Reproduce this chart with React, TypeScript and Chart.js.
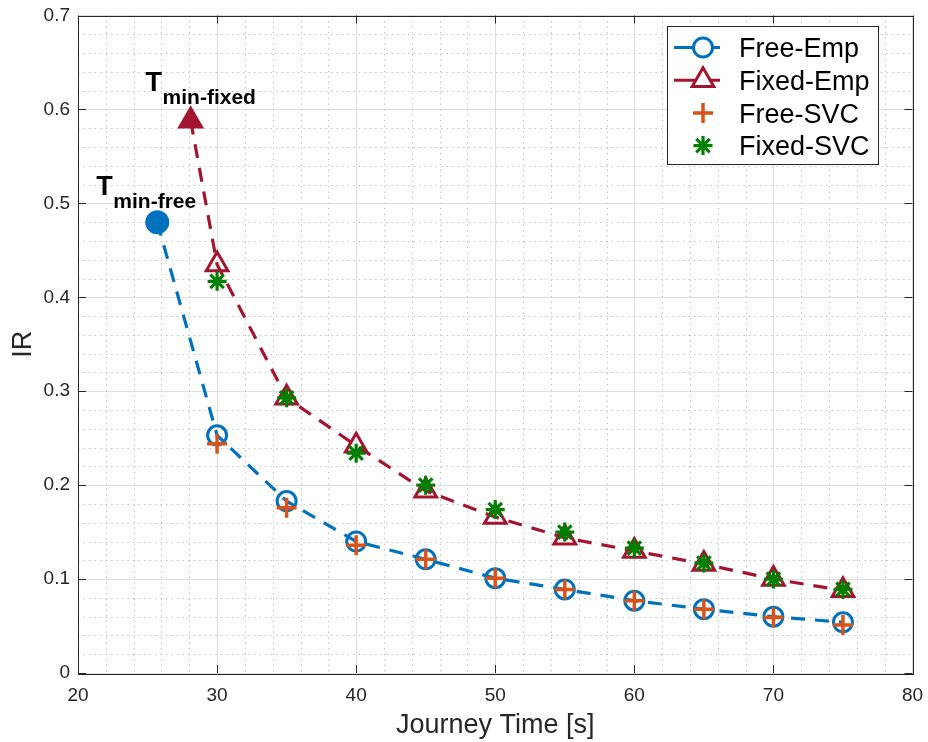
import React, { useEffect, useRef } from "react";
import { Chart, registerables } from "chart.js";

Chart.register(...registerables);

// ---------- data ----------
const journeyTimes = [30, 35, 40, 45, 50, 55, 60, 65, 70, 75];
const tMinFree = 25.7;
const irMinFree = 0.48;
const tMinFixed = 28.1;
const irMinFixed = 0.588;
const freeEmp = [0.253, 0.183, 0.14, 0.121, 0.101, 0.089, 0.077, 0.068, 0.06, 0.054];
const fixedEmp = [0.435, 0.293, 0.242, 0.194, 0.166, 0.144, 0.13, 0.116, 0.1, 0.088];
const freeSVC = [0.244, 0.176, 0.136, 0.121, 0.101, 0.089, 0.077, 0.068, 0.059, 0.051];
const fixedSVC = [0.417, 0.293, 0.234, 0.2, 0.174, 0.15, 0.133, 0.117, 0.1, 0.089];
const seriesNames = ["Free-Emp", "Fixed-Emp", "Free-SVC", "Fixed-SVC"];
const xTickValues = [20, 30, 40, 50, 60, 70, 80];
const yTickValues = [0, 0.1, 0.2, 0.3, 0.4, 0.5, 0.6, 0.7];
const xTitle = "Journey Time [s]";
const yTitle = "IR";
const annotFree = { main: "T", sub: "min-free", x: 21.32, y: 0.509 };
const annotFixed = { main: "T", sub: "min-fixed", x: 24.86, y: 0.6196 };

// ---------- styles ----------
const FONT = '"Liberation Sans", Arial, Helvetica, sans-serif';
const BLUE = "#0072BD";
const RED = "#A2142F";
const ORANGE = "#D95319";
const GREEN = "#008000";
const AXIS = "#262626";
const TRI_R = 12.5;
const CIRC_R = 9.5;

function drawMarker(ctx: CanvasRenderingContext2D, kind: string, x: number, y: number, color: string) {
  ctx.save();
  ctx.strokeStyle = color;
  ctx.fillStyle = "#fff";
  ctx.setLineDash([]);
  if (kind === "circle") {
    ctx.lineWidth = 3;
    ctx.beginPath();
    ctx.arc(x, y, CIRC_R, 0, Math.PI * 2);
    ctx.fill();
    ctx.stroke();
  } else if (kind === "triangle") {
    ctx.lineWidth = 3;
    ctx.beginPath();
    for (let i = 0; i < 3; i++) {
      const a = (i * 2 * Math.PI) / 3;
      const px = x + Math.sin(a) * TRI_R;
      const py = y - Math.cos(a) * TRI_R;
      if (i === 0) ctx.moveTo(px, py);
      else ctx.lineTo(px, py);
    }
    ctx.closePath();
    ctx.fill();
    ctx.stroke();
  } else if (kind === "cross") {
    ctx.lineWidth = 3.5;
    ctx.beginPath();
    ctx.moveTo(x - 10, y);
    ctx.lineTo(x + 10, y);
    ctx.moveTo(x, y - 10);
    ctx.lineTo(x, y + 10);
    ctx.stroke();
  } else if (kind === "star") {
    ctx.lineWidth = 3.2;
    ctx.beginPath();
    for (let i = 0; i < 4; i++) {
      const a = (i * Math.PI) / 4;
      ctx.moveTo(x - Math.cos(a) * 9.5, y - Math.sin(a) * 9.5);
      ctx.lineTo(x + Math.cos(a) * 9.5, y + Math.sin(a) * 9.5);
    }
    ctx.stroke();
  }
  ctx.restore();
}

const framePlugin = {
  id: "matlabFrame",
  beforeDatasetsDraw(chart: any) {
    const { ctx, chartArea: a, scales } = chart;
    const xs = scales.x;
    const ys = scales.y;
    ctx.save();
    ctx.strokeStyle = "#c2c2c2";
    ctx.lineWidth = 1;
    ctx.setLineDash([1.5, 4]);
    for (let i = 1; i < 30; i++) {
      if (i % 5 === 0) continue;
      const p = Math.round(xs.getPixelForValue(20 + 2 * i)) + 0.5;
      ctx.beginPath();
      ctx.moveTo(p, a.top);
      ctx.lineTo(p, a.bottom);
      ctx.stroke();
    }
    for (let j = 1; j < 35; j++) {
      if (j % 5 === 0) continue;
      const p = Math.round(ys.getPixelForValue(0.02 * j)) + 0.5;
      ctx.beginPath();
      ctx.moveTo(a.left, p);
      ctx.lineTo(a.right, p);
      ctx.stroke();
    }
    ctx.restore();
  },
  afterDraw(chart: any) {
    const { ctx, chartArea: a, scales } = chart;
    const xs = scales.x;
    const ys = scales.y;
    ctx.save();
    // box
    ctx.strokeStyle = AXIS;
    ctx.lineWidth = 1;
    ctx.setLineDash([]);
    ctx.strokeRect(Math.round(a.left) + 0.5, Math.round(a.top) + 0.5, Math.round(a.right - a.left), Math.round(a.bottom - a.top));
    // inward ticks
    const TL = 8;
    ctx.beginPath();
    for (const v of xTickValues) {
      const p = Math.round(xs.getPixelForValue(v)) + 0.5;
      ctx.moveTo(p, a.bottom);
      ctx.lineTo(p, a.bottom - TL);
      ctx.moveTo(p, a.top);
      ctx.lineTo(p, a.top + TL);
    }
    for (const v of yTickValues) {
      const p = Math.round(ys.getPixelForValue(v)) + 0.5;
      ctx.moveTo(a.left, p);
      ctx.lineTo(a.left + TL, p);
      ctx.moveTo(a.right, p);
      ctx.lineTo(a.right - TL, p);
    }
    ctx.stroke();

    // annotations
    ctx.fillStyle = "#000";
    ctx.textBaseline = "alphabetic";
    ctx.textAlign = "left";
    for (const an of [annotFree, annotFixed]) {
      const px = xs.getPixelForValue(an.x);
      const py = ys.getPixelForValue(an.y);
      ctx.font = `bold 27px ${FONT}`;
      ctx.fillText(an.main, px, py);
      const w = ctx.measureText(an.main).width;
      ctx.font = `bold 21px ${FONT}`;
      ctx.fillText(an.sub, px + w + 0.5, py + 13);
    }

    // legend
    const lx0 = 667, lx1 = 878, ly0 = 26, ly1 = 164;
    ctx.fillStyle = "#fff";
    ctx.fillRect(lx0, ly0, lx1 - lx0, ly1 - ly0);
    ctx.strokeStyle = AXIS;
    ctx.lineWidth = 1;
    ctx.strokeRect(lx0 + 0.5, ly0 + 0.5, lx1 - lx0, ly1 - ly0);
    const kinds = ["circle", "triangle", "cross", "star"];
    const colors = [BLUE, RED, ORANGE, GREEN];
    const lines = [true, true, false, false];
    for (let i = 0; i < 4; i++) {
      const cy = 47.5 + i * 32.7;
      if (lines[i]) {
        ctx.strokeStyle = colors[i];
        ctx.lineWidth = 3;
        ctx.beginPath();
        ctx.moveTo(674, cy);
        ctx.lineTo(720, cy);
        ctx.stroke();
      }
      drawMarker(ctx, kinds[i], 703, cy, colors[i]);
      ctx.fillStyle = "#000";
      ctx.font = `27px ${FONT}`;
      ctx.fillText(seriesNames[i], 739, cy + 9.7);
    }
    ctx.restore();
  },
};

export default function App() {
  const ref = useRef<HTMLCanvasElement>(null);
  useEffect(() => {
    const canvas = ref.current;
    if (!canvas) return;
    const dashed = [14, 10];
    const chart = new Chart(canvas, {
      type: "scatter",
      data: {
        datasets: [
          {
            label: seriesNames[0],
            data: [{ x: tMinFree, y: irMinFree }, ...journeyTimes.map((t, i) => ({ x: t, y: freeEmp[i] }))],
            showLine: true,
            borderColor: BLUE,
            borderWidth: 3.2,
            borderDash: dashed,
            tension: 0,
            pointStyle: "circle",
            pointRadius: (c: any) => (c.dataIndex === 0 ? 10.5 : CIRC_R),
            pointBorderWidth: 3,
            pointBorderColor: BLUE,
            pointBackgroundColor: (c: any) => (c.dataIndex === 0 ? BLUE : "rgba(0,0,0,0)"),
            order: 2,
          },
          {
            label: seriesNames[1],
            data: [{ x: tMinFixed, y: irMinFixed }, ...journeyTimes.map((t, i) => ({ x: t, y: fixedEmp[i] }))],
            showLine: true,
            borderColor: RED,
            borderWidth: 3.2,
            borderDash: dashed,
            tension: 0,
            pointStyle: "triangle",
            pointRadius: TRI_R,
            pointBorderWidth: 3,
            pointBorderColor: RED,
            pointBackgroundColor: (c: any) => (c.dataIndex === 0 ? RED : "rgba(0,0,0,0)"),
            order: 2,
          },
          {
            label: seriesNames[2],
            data: journeyTimes.map((t, i) => ({ x: t, y: freeSVC[i] })),
            showLine: false,
            pointStyle: "cross",
            pointRadius: 10,
            pointBorderWidth: 3.5,
            pointBorderColor: ORANGE,
            pointBackgroundColor: ORANGE,
            borderColor: ORANGE,
            order: 1,
          },
          {
            label: seriesNames[3],
            data: journeyTimes.map((t, i) => ({ x: t, y: fixedSVC[i] })),
            showLine: false,
            pointStyle: "star",
            pointRadius: 9.5,
            pointBorderWidth: 3.2,
            pointBorderColor: GREEN,
            pointBackgroundColor: GREEN,
            borderColor: GREEN,
            order: 1,
          },
        ],
      },
      options: {
        animation: false,
        responsive: false,
        devicePixelRatio: 1,
        events: [],
        layout: { padding: { left: 0, top: 14, right: 11, bottom: 0 } },
        plugins: { legend: { display: false }, tooltip: { enabled: false }, title: { display: false } },
        scales: {
          x: {
            type: "linear",
            min: 20,
            max: 80,
            afterFit: (s: any) => {
              s.height = 69;
              s.paddingLeft = 0;
              s.paddingRight = 0;
            },
            ticks: {
              stepSize: 10,
              color: AXIS,
              font: { family: FONT, size: 19 },
              padding: 11,
              maxRotation: 0,
            },
            grid: { color: "#dedede", lineWidth: 1, drawTicks: false },
            border: { display: false },
            title: {
              display: true,
              text: xTitle,
              color: AXIS,
              font: { family: FONT, size: 27 },
              padding: { top: 0, bottom: 0 },
            },
          },
          y: {
            type: "linear",
            min: 0,
            max: 0.7,
            afterFit: (s: any) => {
              s.width = 78;
              s.paddingTop = 0;
              s.paddingBottom = 0;
            },
            ticks: {
              stepSize: 0.1,
              color: AXIS,
              font: { family: FONT, size: 19 },
              padding: 8,
              callback: (v: any) => (Math.abs(v) < 1e-9 ? "0" : Number(v).toFixed(1)),
            },
            grid: { color: "#dedede", lineWidth: 1, drawTicks: false },
            border: { display: false },
            title: {
              display: true,
              text: yTitle,
              color: AXIS,
              font: { family: FONT, size: 27 },
              padding: { top: 7, bottom: 0 },
            },
          },
        },
      },
      plugins: [framePlugin],
    } as any);
    return () => chart.destroy();
  }, []);
  return (
    <div style={{ position: "absolute", left: 0, top: 0, width: 928, height: 742, background: "#fff" }}>
      <canvas ref={ref} width={928} height={742} style={{ display: "block", width: 928, height: 742 }} />
    </div>
  );
}
